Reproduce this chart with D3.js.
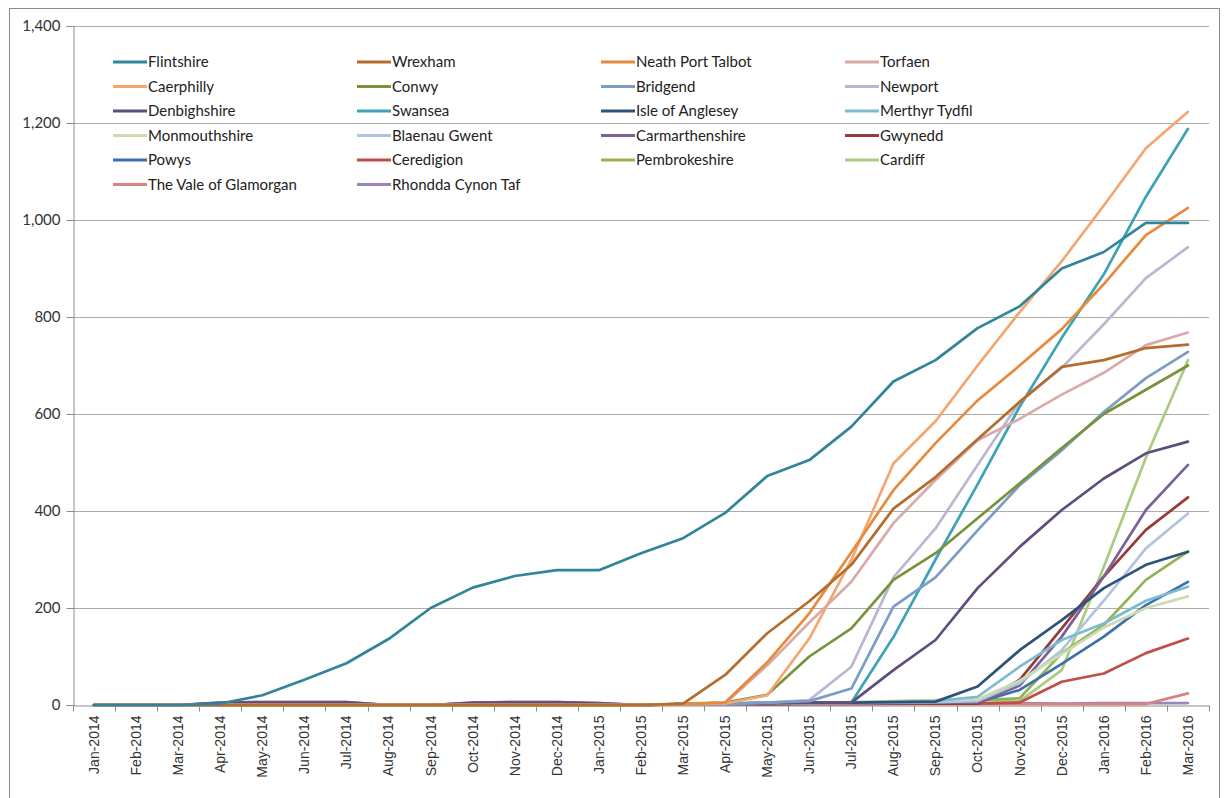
<!DOCTYPE html>
<html>
<head>
<meta charset="utf-8">
<script src="https://cdn.jsdelivr.net/npm/d3@7"></script>
<style>
  html, body { margin: 0; padding: 0; background: #fff; }
  svg { display: block; }
</style>
</head>
<body>
<svg id="chart" width="1225" height="798"></svg>
<script>
// Monthly months, Jan-2014 .. Mar-2016
const months = ["Jan-2014","Feb-2014","Mar-2014","Apr-2014","May-2014","Jun-2014","Jul-2014","Aug-2014","Sep-2014","Oct-2014","Nov-2014","Dec-2014",
  "Jan-2015","Feb-2015","Mar-2015","Apr-2015","May-2015","Jun-2015","Jul-2015","Aug-2015","Sep-2015","Oct-2015","Nov-2015","Dec-2015",
  "Jan-2016","Feb-2016","Mar-2016"];

const yTicks = [0, 200, 400, 600, 800, 1000, 1200, 1400];

// Cumulative counts per local authority
const flintshire      = [0,0,0,3,20,52,86,136,200,242,266,278,278,313,344,396,472,505,574,667,711,777,822,900,934,994,994];
const wrexham         = [0,0,0,0,0,0,0,0,0,0,0,0,0,0,3,62,148,214,289,405,470,548,625,697,711,736,743];
const neathPortTalbot = [0,0,0,0,0,0,0,0,0,0,0,0,0,0,2,5,88,189,315,443,540,628,700,775,868,969,1025];
const torfaen         = [0,0,0,0,0,0,0,0,0,0,0,0,0,0,2,3,82,170,254,375,464,546,590,640,685,742,768];
const caerphilly      = [0,0,0,0,0,0,0,0,0,0,0,0,0,0,2,3,20,137,299,498,585,700,810,915,1030,1148,1223];
const conwy           = [0,0,0,0,0,0,0,0,0,0,0,0,0,0,3,5,21,100,158,258,313,385,457,530,600,650,700];
const bridgend        = [0,0,0,0,0,0,0,0,0,0,0,0,0,0,2,3,5,8,34,203,263,360,453,525,604,674,728];
const newport         = [0,0,0,0,0,0,0,0,0,0,0,0,0,0,2,3,5,10,79,263,364,495,625,695,785,880,944];
const denbighshire    = [0,0,0,4,5,5,5,0,0,4,5,5,3,0,2,3,4,5,5,72,134,241,326,402,467,519,543];
const swansea         = [0,0,0,0,0,0,0,0,0,0,0,0,0,0,2,3,4,5,5,140,300,455,615,757,888,1048,1188];
const isleOfAnglesey  = [0,0,0,0,0,0,0,0,0,0,0,0,0,0,2,3,4,5,5,6,7,38,113,175,241,289,316];
const merthyrTydfil   = [0,0,0,0,0,0,0,0,0,0,0,0,0,0,2,3,4,5,5,6,8,17,79,134,168,215,244];
const monmouthshire   = [0,0,0,0,0,0,0,0,0,0,0,0,0,0,2,3,4,5,5,7,9,12,50,105,160,200,224];
const blaenauGwent    = [0,0,0,0,0,0,0,0,0,0,0,0,0,0,1,2,3,4,4,5,6,8,45,113,215,323,395];
const carmarthenshire = [0,0,0,5,6,6,6,0,0,5,6,6,4,0,1,2,3,3,4,4,5,5,40,141,265,402,495];
const gwynedd         = [0,0,0,0,0,0,0,0,0,0,0,0,0,0,1,2,2,3,3,3,3,3,52,158,265,361,428];
const powys           = [0,0,0,0,0,0,0,0,0,0,0,0,0,0,2,3,4,5,5,5,5,5,31,85,141,206,254];
const ceredigion      = [0,0,0,0,0,0,0,0,0,0,0,0,0,0,1,1,2,2,2,3,3,3,5,48,65,107,137];
const pembrokeshire   = [0,0,0,0,0,0,0,0,0,0,0,0,0,0,2,3,4,5,5,6,8,10,14,107,165,258,316];
const cardiff         = [0,0,0,0,0,0,0,0,0,0,0,0,0,0,2,3,4,5,6,8,10,10,8,72,285,510,711];
const valeOfGlamorgan = [0,0,0,0,0,0,0,0,0,0,0,0,0,0,1,1,2,2,2,2,2,2,2,2,2,2,24];
const rhonddaCynonTaf = [0,0,0,5,6,6,6,0,0,5,6,6,4,0,2,3,3,4,4,4,4,4,4,3,4,4,4];

const seriesNames = ["Flintshire","Wrexham","Neath Port Talbot","Torfaen","Caerphilly","Conwy","Bridgend","Newport",
  "Denbighshire","Swansea","Isle of Anglesey","Merthyr Tydfil","Monmouthshire","Blaenau Gwent","Carmarthenshire","Gwynedd",
  "Powys","Ceredigion","Pembrokeshire","Cardiff","The Vale of Glamorgan","Rhondda Cynon Taf"];
const seriesValues = [flintshire, wrexham, neathPortTalbot, torfaen, caerphilly, conwy, bridgend, newport,
  denbighshire, swansea, isleOfAnglesey, merthyrTydfil, monmouthshire, blaenauGwent, carmarthenshire, gwynedd,
  powys, ceredigion, pembrokeshire, cardiff, valeOfGlamorgan, rhonddaCynonTaf];
const seriesColors = ["#31849b","#b56d2e","#e8893b","#d9aaa8","#f5a66e","#77933c","#7c9cc6","#bcb6d0",
  "#5f4d7e","#3ea3b5","#2f5279","#7dbcd0","#cbdcb3","#b0c4e0","#7b619c","#963b38",
  "#3e6fac","#bf4e4b","#93b356","#aacb80","#d8837f","#9b86b8"];

const series = seriesNames.map((name, i) => ({ name, values: seriesValues[i], color: seriesColors[i] }));

const svg = d3.select("#chart");
const plot = { left: 73, right: 1209, top: 26, bottom: 705 };

// Outer chart frame
svg.append("rect")
  .attr("x", 9.5).attr("y", 8.5)
  .attr("width", 1210).attr("height", 800)
  .attr("fill", "none").attr("stroke", "#8c8c8c").attr("stroke-width", 1);

const x = d3.scaleBand().domain(months).range([plot.left, plot.right]).padding(0);
const y = d3.scaleLinear().domain([0, 1400]).range([plot.bottom, plot.top]);

// Horizontal gridlines
svg.append("g")
  .selectAll("line")
  .data(yTicks.filter(t => t > 0))
  .join("line")
  .attr("x1", plot.left).attr("x2", plot.right)
  .attr("y1", d => Math.round(y(d)) + 0.5).attr("y2", d => Math.round(y(d)) + 0.5)
  .attr("stroke", "#ababab").attr("stroke-width", 1);

// Y axis
const yAxis = svg.append("g")
  .attr("transform", `translate(${plot.left + 0.5},0)`)
  .call(d3.axisLeft(y).tickValues(yTicks).tickSize(7).tickPadding(6).tickFormat(d3.format(",")));
yAxis.select(".domain").attr("stroke", "#8c8c8c");
yAxis.selectAll(".tick line").attr("stroke", "#8c8c8c");
yAxis.selectAll(".tick text")
  .attr("fill", "#333")
  .style("font-family", "Lato, 'Open Sans', sans-serif")
  .style("font-size", "15px");

// X axis with ticks between categories
const xAxis = svg.append("g")
  .attr("transform", `translate(0,${plot.bottom + 0.5})`)
  .call(d3.axisBottom(x).tickSize(0).tickPadding(0));
xAxis.select(".domain").attr("stroke", "#8c8c8c");
xAxis.selectAll(".tick text")
  .attr("fill", "#333")
  .attr("transform", "rotate(-90)")
  .attr("text-anchor", "end")
  .attr("x", -10).attr("y", 0).attr("dy", "0.35em")
  .style("font-family", "'Liberation Sans', Arial, sans-serif")
  .style("font-size", "14px");
xAxis.append("g")
  .selectAll("line")
  .data(d3.range(months.length + 1))
  .join("line")
  .attr("x1", i => Math.round(plot.left + i * x.step()) + 0.5)
  .attr("x2", i => Math.round(plot.left + i * x.step()) + 0.5)
  .attr("y1", 0).attr("y2", 6)
  .attr("stroke", "#8c8c8c");

// Lines
const line = d3.line()
  .x((d, i) => x(months[i]) + x.bandwidth() / 2)
  .y(d => y(d));

svg.append("g")
  .selectAll("path")
  .data(series.slice().reverse())
  .join("path")
  .attr("d", d => line(d.values))
  .attr("fill", "none")
  .attr("stroke", d => d.color)
  .attr("stroke-width", 2.7)
  .attr("stroke-linejoin", "round")
  .attr("stroke-linecap", "round");

// Legend, four columns
const legendCols = 4, colStep = 244, rowStep = 24.5;
const legend = svg.append("g").attr("transform", "translate(113,62)");
const item = legend.selectAll("g")
  .data(series)
  .join("g")
  .attr("transform", (d, i) => `translate(${(i % legendCols) * colStep},${Math.floor(i / legendCols) * rowStep})`);
item.append("line")
  .attr("x1", 0).attr("x2", 34).attr("y1", 0).attr("y2", 0)
  .attr("stroke", d => d.color).attr("stroke-width", 3);
item.append("text")
  .attr("x", 35).attr("y", 0).attr("dy", "0.35em")
  .attr("fill", "#222")
  .style("font-family", "Lato, 'Open Sans', sans-serif")
  .style("font-size", "15px")
  .text(d => d.name);
</script>
</body>
</html>
